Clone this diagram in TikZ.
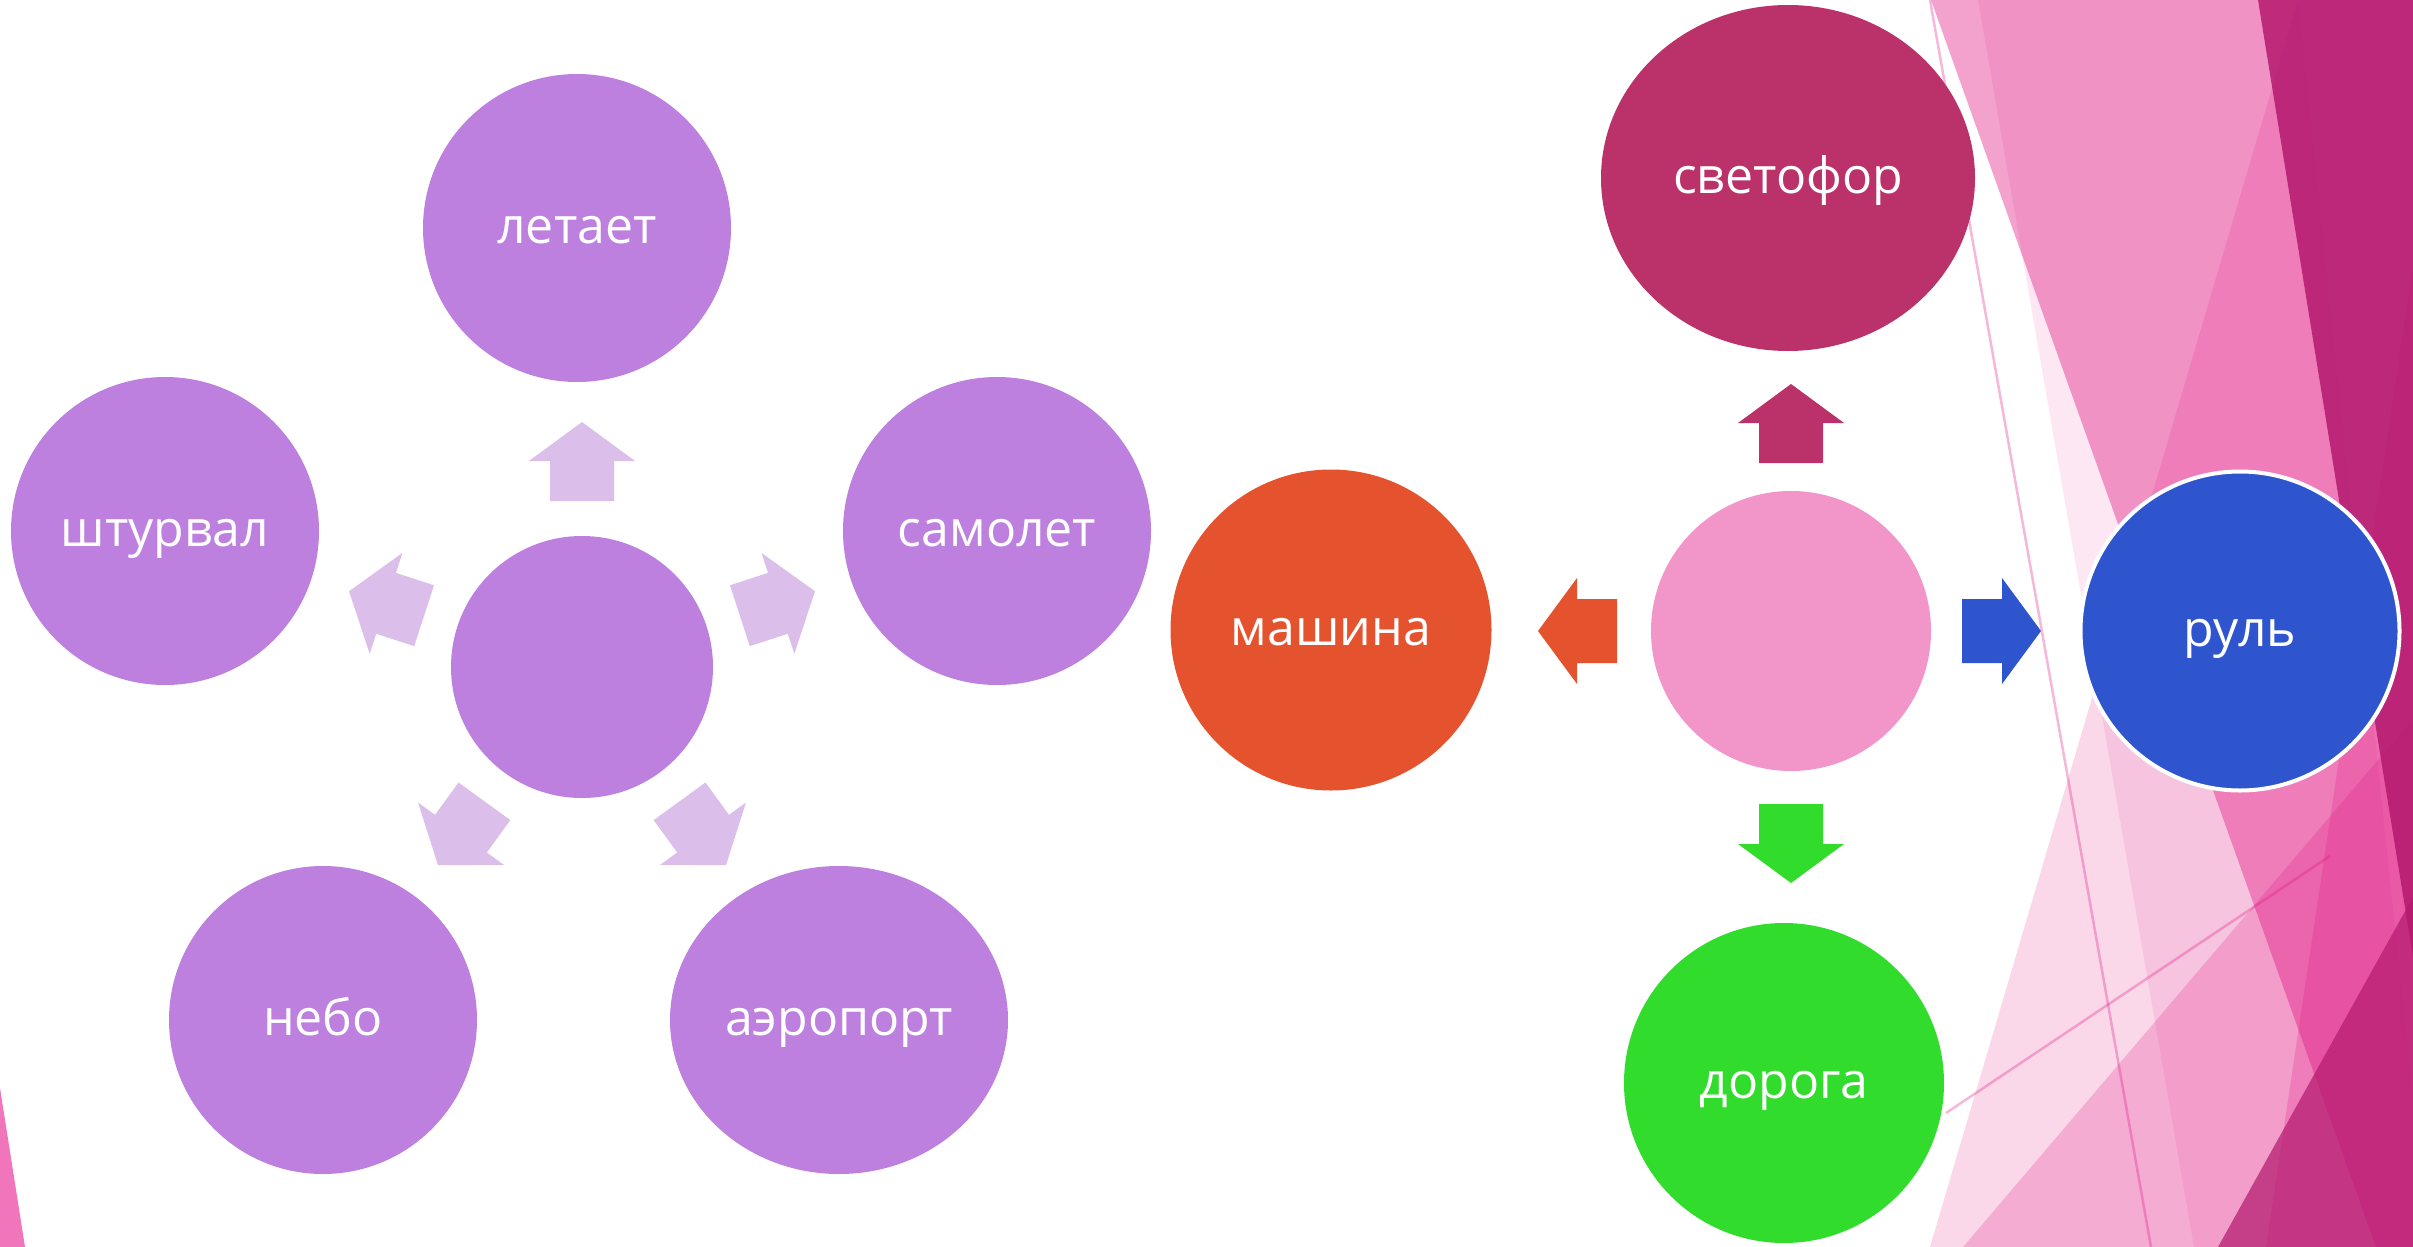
\documentclass[tikz,border=0pt]{standalone}
\usepackage{fontspec}
\setmainfont{Open Sans}
\usetikzlibrary{shapes.geometric}
\definecolor{purp}{HTML}{BD80DF}
\definecolor{lpurp}{HTML}{DBBFEA}
\definecolor{pinkc}{HTML}{F295C8}
\definecolor{magc}{HTML}{BB3169}
\definecolor{orac}{HTML}{E5532E}
\definecolor{bluc}{HTML}{2E55CE}
\definecolor{grnc}{HTML}{32DC2C}
\definecolor{facetP}{RGB}{226,20,130}
\definecolor{facetQ}{RGB}{180,25,110}
\definecolor{sliver}{HTML}{F075BA}
\newcommand{\blockarr}[4]{%
  \begin{scope}[shift={(#1)}, rotate=#2]
    \fill[#4] (#3,-32) -- ({#3+40},-32) -- ({#3+40},-53) -- ({#3+79},0) -- ({#3+40},53) -- ({#3+40},32) -- (#3,32) -- cycle;
  \end{scope}}
\tikzset{
  bubble/.style={circle, inner sep=0pt, text=white, font=\fontsize{50}{60}\selectfont, text height=36pt, text depth=6pt},
  oval/.style={ellipse, inner sep=0pt, text=white, font=\fontsize{50}{60}\selectfont, text height=36pt, text depth=6pt},
  thinline/.style={draw=facetP, draw opacity=0.3, line width=2.5pt},
}
\begin{document}
\begin{tikzpicture}[x=1pt,y=-1pt]
\useasboundingbox (0,0) rectangle (2413,1247);
\fill[white] (0,0) rectangle (2413,1247);
% background facets
\fill[facetP, opacity=0.4] (1931,0) -- (2413,0) -- (2413,1247) -- (2376,1247) -- cycle;
\fill[facetP, opacity=0.1] (1978,0) -- (2298,0) -- (2413,1100) -- (2413,1247) -- (2194,1247) -- cycle;
\fill[facetP, opacity=0.165] (2298,0) -- (2413,0) -- (2413,1247) -- (1930,1247) -- cycle;
\fill[facetP, opacity=0.22] (1963,1247) -- (2413,719) -- (2413,1247) -- cycle;
\fill[facetP, opacity=0.23] (2266,1247) -- (2413,265) -- (2413,1247) -- cycle;
\fill[facetQ, opacity=0.85] (2258,0) -- (2413,0) -- (2413,957) -- cycle;
\fill[facetQ, opacity=0.71] (2218,1247) -- (2413,897) -- (2413,1247) -- cycle;
\draw[thinline] (1930,0) -- (2151,1247);
\draw[thinline] (1946,1113) -- (2330,856);
\fill[sliver] (0,1088) -- (25,1247) -- (0,1247) -- cycle;

% left cluster
\node[bubble, fill=purp, minimum size=262pt] (hub1) at (582,667) {};
\node[bubble, fill=purp, minimum size=308pt] (letaet) at (577,228) {летает};
\node[bubble, fill=purp, minimum size=308pt] (samolet) at (997,531) {самолет};
\node[bubble, fill=purp, minimum size=308pt] (shturval) at (165,531) {штурвал};
\node[bubble, fill=purp, minimum size=308pt] (nebo) at (323,1020) {небо};
\node[oval, fill=purp, minimum width=338pt, minimum height=308pt] (aeroport) at (839,1020) {аэропорт};
\blockarr{hub1.center}{90}{166}{lpurp}
\blockarr{hub1.center}{18}{166}{lpurp}
\blockarr{hub1.center}{162}{166}{lpurp}
\blockarr{hub1.center}{-54}{166}{lpurp}
\blockarr{hub1.center}{-126}{166}{lpurp}

% right cluster
\node[bubble, fill=pinkc, minimum size=280pt] (hub2) at (1791,631) {};
\node[oval, fill=magc, minimum width=374pt, minimum height=346pt] (svetofor) at (1788,178) {светофор};
\node[bubble, fill=orac, minimum size=321pt] (mashina) at (1331,630) {машина};
\node[bubble, fill=bluc, draw=white, line width=4pt, minimum size=319pt] (rul) at (2240,631) {руль};
\node[bubble, fill=grnc, minimum size=320pt] (doroga) at (1784,1083) {дорога};
\blockarr{hub2.center}{90}{168}{magc}
\blockarr{hub2.center}{180}{174}{orac}
\blockarr{hub2.center}{0}{171}{bluc}
\blockarr{hub2.center}{-90}{173}{grnc}
\end{tikzpicture}
\end{document}
